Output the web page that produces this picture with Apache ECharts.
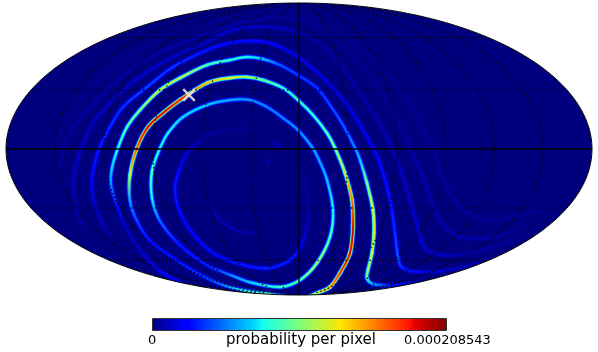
<!DOCTYPE html>
<html><head><meta charset="utf-8">
<style>html,body{margin:0;padding:0;background:#fff}#c{width:598px;height:352px}</style>
<script src="https://cdn.jsdelivr.net/npm/echarts@6/dist/echarts.min.js"></script>
</head><body><div id="c"></div>
<script>
// Ridges of the sky map: [x, y, probability fraction of the colour bar]
const ringA=[[160,148,.38],[168,133,.38],[183,117,.36],[207,105,.34],[230,100,.3],[250,100,.28],[267,107,.27],[283,118,.27],[298,130,.28],[312,147,.3],[319,160,.3],[327,180,.33],[333,210,.38],[330,237,.45],[317,263,.55],[300,280,.45],[280,287,.42],[253,283,.35],[233,276,.28],[207,265,.16],[180,245,.15],[160,221,.24],[152,198,.38],[152,171,.45],[160,148,.38]];
const ringB=[[283,296,.5],[267,294,.5],[247,291,.38],[223,285,.25],[197,273,.18],[173,258,.14],[150,241,.14],[137,221,.2],[130,201,.3],[130,175,.6],[137,148,.82],[148,127,.9],[163,113,.92],[180,100,.88],[207,83,.68],[230,78,.62],[247,77,.55],[263,80,.48],[283,88,.42],[298,100,.42],[313,115,.42],[327,133,.45],[335,148,.5],[345,173,.6],[352,200,.78],[353,227,.92],[350,253,.9],[340,273,.85],[330,287,.75],[317,293,.6],[305,298,.5]];
const ringC=[[186,285,.1],[160,271,.12],[140,250,.06],[125,226,.06],[117,205,.14],[111,185,.28],[112,168,.35],[118,148,.42],[127,127,.45],[140,110,.5],[160,90,.6],[180,78,.58],[207,65,.45],[230,60,.42],[247,57,.38],[263,59,.33],[280,65,.22],[298,75,.19],[317,88,.18],[330,105,.2],[343,125,.22],[355,148,.28],[360,160,.33],[367,183,.5],[373,210,.62],[374,233,.65],[372,253,.6],[368,270,.55],[367,278,.45],[373,284,.3],[393,285,.12],[427,282,.06]];
const ringD=[[110,237,.03],[100,218,.05],[93,198,.08],[92,178,.13],[97,155,.15],[100,147,.16],[110,127,.17],[123,107,.18],[147,87,.2],[173,67,.18],[207,50,.14],[230,43,.13],[253,41,.13],[273,44,.11],[298,57,.09],[323,78,.09],[345,102,.09],[362,128,.1],[373,148,.12],[380,163,.13],[390,200,.15],[395,233,.18],[398,257,.22],[403,268,.16],[423,272,.09],[460,268,.05],[490,258,.02]];
const ringE=[[85,225,.02],[78,215,.03],[73,185,.05],[78,158,.06],[82,147,.06],[93,123,.06],[110,103,.06],[133,82,.07],[167,60,.07],[207,42,.06],[230,31,.06],[253,27,.06],[280,28,.05],[298,33,.035],[330,52,.025],[370,108,.04],[388,140,.05],[403,177,.06],[415,217,.07],[422,243,.08],[433,253,.06],[460,255,.04],[493,247,.025],[525,235,.012]];
const ringF=[[60,165,.02],[65,143,.025],[77,123,.025],[97,100,.03],[120,78,.03],[150,57,.03],[190,40,.03],[240,23,.03],[280,18,.02],[320,28,.015],[370,75,.015],[405,135,.025],[408,143,.03],[423,177,.04],[440,220,.04],[460,237,.04],[493,237,.03],[523,227,.015]];
const ringG=[[52,150,.01],[70,115,.012],[110,70,.012],[160,40,.012],[220,20,.012],[290,12,.01],[350,40,.01],[400,90,.012],[432,147,.02],[443,180,.025],[460,207,.025],[487,220,.02],[520,215,.014],[547,205,.01]];
const ringZ=[[250,128,.01],[213,133,.02],[202,140,.035],[187,153,.08],[177,177,.14],[175,191,.15],[178,207,.14],[190,230,.12],[213,253,.13],[243,265,.15],[270,268,.16],[290,260,.16],[300,248,.1],[307,227,.05],[308,210,.03],[305,175,.015]];
const ringY=[[210,203,.025],[220,220,.04],[240,232,.04],[253,233,.02]];
const spotP=[[275,144,.06],[280,147,.04]];
const spotQ=[[268,160,.04],[268,164,.03]];
const rings=[ringG,ringF,ringE,ringZ,ringY,spotP,spotQ,ringD,ringC,ringA,ringB];
const markerPoint=[[189,95]];
const barStops=[0,.11,.125,.35,.375,.5,.625,.64,.875,.89,1];
const barLabels=["0","0.000208543"];
const barTitle="probability per pixel";

const sky={cx:299,cy:149,a:293,b:146};
const jetStops=[[0,0,0,127],[.11,0,0,255],[.125,0,0,255],[.35,0,219,255],[.375,20,255,239],[.5,124,255,121],[.64,255,230,0],[.875,255,18,0],[.89,230,0,0],[1,127,0,0]];
function jet(v){v=Math.max(0,Math.min(1,v));for(let i=1;i<jetStops.length;i++){const p=jetStops[i-1],q=jetStops[i];if(v<=q[0]){const t=(v-p[0])/(q[0]-p[0]);return`rgb(${Math.round(p[1]+t*(q[1]-p[1]))},${Math.round(p[2]+t*(q[2]-p[2]))},${Math.round(p[3]+t*(q[3]-p[3]))})`;}}return'rgb(127,0,0)';}
function molly(lon,lat){let phi=lat*Math.PI/180,t=phi;for(let i=0;i<40;i++){t-=(2*t+Math.sin(2*t)-Math.PI*Math.sin(phi))/(2+2*Math.cos(2*t));}return[sky.cx+sky.a*lon/180*Math.cos(t),sky.cy-sky.b*Math.sin(t)];}
const outline=[];for(let i=0;i<=180;i++){const t=i/180*2*Math.PI;outline.push([sky.cx+sky.a*Math.cos(t),sky.cy+sky.b*Math.sin(t)]);}
const holeCW=[];for(let i=0;i<=180;i++){holeCW.push(outline[(90+i)%180]);}
const mask=[[0,0],[598,0],[598,310],[0,310],[0,sky.cy],...holeCW.slice().reverse(),[0,sky.cy]];
const grat=[];for(let lon=-150;lon<=150;lon+=30){if(!lon)continue;const l=[];for(let la=-86;la<=86;la+=2)l.push(molly(lon,la));grat.push(l);}
for(const la of[-60,-30,30,60]){const l=[];for(let lo=-180;lo<=180;lo+=5)l.push(molly(lo,la));grat.push(l);}

function layer(ring,z,width,scale,op){return{type:'custom',coordinateSystem:'cartesian2d',silent:true,z:z,clip:false,animation:false,data:ring,
 encode:{x:0,y:1},renderItem(p,api){const i=p.dataIndex;if(i>=ring.length-1)return{type:'group',children:[]};
  const C=k=>api.coord(ring[Math.max(0,Math.min(ring.length-1,k))]);
  const p0=C(i-1),p1=C(i),p2=C(i+1),p3=C(i+2);
  const c1=[p1[0]+(p2[0]-p0[0])/6,p1[1]+(p2[1]-p0[1])/6],c2=[p2[0]-(p3[0]-p1[0])/6,p2[1]-(p3[1]-p1[1])/6];
  const v1=ring[i][2],v2=ring[i+1][2];
  return{type:'bezierCurve',shape:{x1:p1[0],y1:p1[1],x2:p2[0],y2:p2[1],cpx1:c1[0],cpy1:c1[1],cpx2:c2[0],cpy2:c2[1]},
   style:{fill:null,lineCap:'round',lineWidth:width,opacity:op,
    stroke:new echarts.graphic.LinearGradient(p1[0],p1[1],p2[0],p2[1],[{offset:0,color:jet(v1*scale)},{offset:1,color:jet(v2*scale)}],true)}};
 }};}
const series=[];
series.push({type:'custom',silent:true,z:1,clip:false,data:[[0,0]],encode:{x:0,y:1},renderItem(p,api){
  return{type:'polygon',shape:{points:outline.map(q=>api.coord(q))},style:{fill:jet(0)}};}});
rings.forEach(r=>{
  series.push(layer(r,2,6,.18,.6));
  series.push(layer(r,3,4.6,.38,.8));
  series.push(layer(r,4,3.4,.62,.9));
  series.push(layer(r,5,2.4,.85,1));
  series.push(layer(r,6,1.4,1,1));
});
series.push({type:'custom',silent:true,z:7,clip:false,data:[[0,0]],encode:{x:0,y:1},renderItem(p,api){
  return{type:'group',children:[
   {type:'polygon',shape:{points:mask.map(q=>api.coord(q))},style:{fill:'#fff'}},
   {type:'polygon',shape:{points:outline.map(q=>api.coord(q))},style:{fill:null,stroke:'#000',lineWidth:1}}]};}});
series.push({type:'custom',silent:true,z:8,clip:false,data:grat.map((_,i)=>[i,0]),encode:{x:0,y:1},renderItem(p,api){
  return{type:'polyline',shape:{points:grat[p.dataIndex].map(q=>api.coord(q))},style:{fill:null,stroke:'#000',lineWidth:1.3,lineDash:[1.4,2.6]}};}});
series.push({type:'custom',silent:true,z:9,clip:false,data:[[0,0],[1,0]],encode:{x:0,y:1},renderItem(p,api){
  const s=p.dataIndex?[[sky.cx,sky.cy-sky.b],[sky.cx,sky.cy+sky.b]]:[[sky.cx-sky.a,sky.cy],[sky.cx+sky.a,sky.cy]];
  return{type:'polyline',shape:{points:s.map(q=>api.coord(q))},style:{fill:null,stroke:'#000',lineWidth:1.3}};}});
series.push({type:'custom',silent:true,z:10,clip:false,data:markerPoint,encode:{x:0,y:1},renderItem(p,api){
  const c=api.coord(markerPoint[0]),r=5.8,st={fill:null,stroke:'rgba(238,232,228,0.88)',lineWidth:2.4};
  return{type:'group',children:[{type:'line',shape:{x1:c[0]-r,y1:c[1]-r,x2:c[0]+r,y2:c[1]+r},style:st},{type:'line',shape:{x1:c[0]-r,y1:c[1]+r,x2:c[0]+r,y2:c[1]-r},style:st}]};}});

const chart=echarts.init(document.getElementById('c'),null,{renderer:'canvas'});
const txt={fontFamily:'DejaVu Sans',fill:'#000'};
chart.setOption({animation:false,backgroundColor:'#fff',
 grid:{left:0,right:0,top:0,bottom:0},
 xAxis:{type:'value',min:0,max:598,show:false},
 yAxis:{type:'value',min:0,max:352,inverse:true,show:false},
 series,
 graphic:[
  {type:'rect',left:152,top:318,z:12,shape:{width:294,height:12},style:{stroke:'#333',lineWidth:1,
    fill:new echarts.graphic.LinearGradient(0,0,1,0,barStops.map(o=>({offset:o,color:jet(o)})))}},
  {type:'text',left:148,top:334,z:12,style:{...txt,text:barLabels[0],fontSize:13}},
  {type:'text',left:226,top:333,z:12,style:{...txt,text:barTitle,fontSize:15}},
  {type:'text',left:404,top:334,z:12,style:{...txt,text:barLabels[1],fontSize:13}}
 ]});
</script></body></html>
